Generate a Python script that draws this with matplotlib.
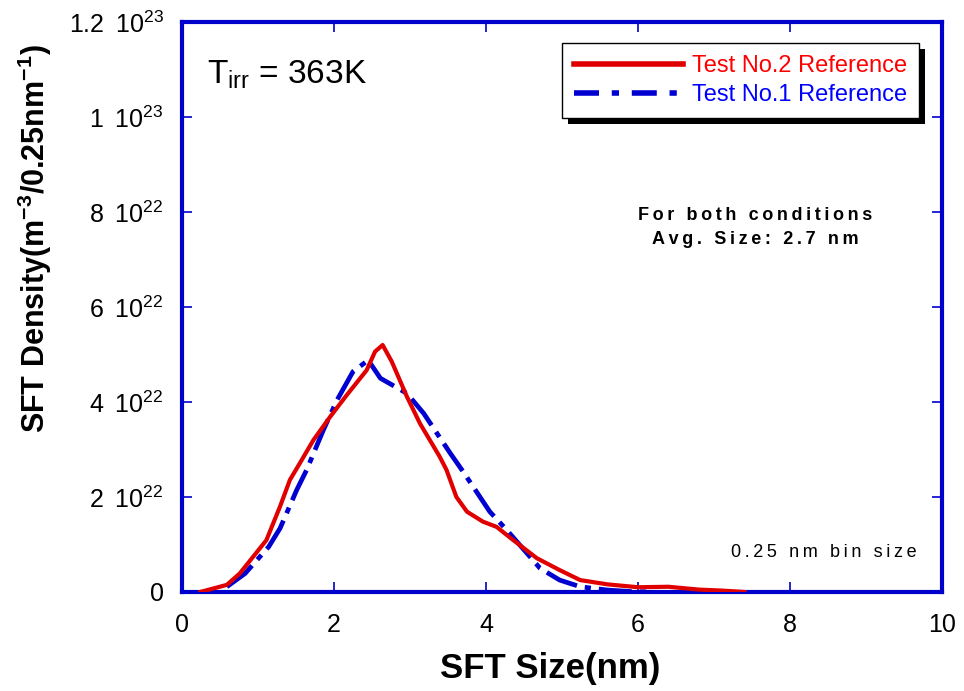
import numpy as np
import matplotlib.pyplot as plt
from matplotlib.ticker import FuncFormatter, MultipleLocator
from matplotlib.patches import Rectangle
from matplotlib.transforms import IdentityTransform

plt.rcParams['font.family'] = ['Liberation Sans', 'DejaVu Sans']
plt.rcParams['mathtext.fontset'] = 'custom'
plt.rcParams['mathtext.rm'] = 'Liberation Sans'
plt.rcParams['mathtext.it'] = 'Liberation Sans:italic'
plt.rcParams['mathtext.bf'] = 'Liberation Sans:bold'

# --- Test No.2 Reference (red, solid) ---
x_ref2 = [0.24, 0.59, 0.76, 1.11, 1.29, 1.42, 1.55, 1.73, 1.95, 2.17, 2.43, 2.54,
          2.64, 2.76, 2.96, 3.13, 3.39, 3.48, 3.61, 3.75, 3.96, 4.14, 4.36, 4.67,
          4.97, 5.24, 5.6, 6.0, 6.4, 6.8, 7.1, 7.4]
y_ref2 = [0.0, 1.5e21, 3.9e21, 1.09e22, 1.8e22, 2.36e22, 2.71e22, 3.2e22, 3.69e22,
          4.15e22, 4.67e22, 5.06e22, 5.2e22, 4.85e22, 4.11e22, 3.55e22, 2.85e22,
          2.57e22, 2.0e22, 1.69e22, 1.48e22, 1.37e22, 1.09e22, 7.1e21, 4.6e21,
          2.5e21, 1.6e21, 1.0e21, 1.1e21, 5e20, 3e20, 0.0]

# --- Test No.1 Reference (blue, dash-dot) ---
x_ref1 = [0.59, 0.83, 1.14, 1.29, 1.51, 1.64, 1.86, 2.04, 2.25, 2.45, 2.61, 2.96,
          3.18, 3.53, 3.70, 4.05, 4.27, 4.71, 4.97, 5.24, 5.6, 5.9, 6.2]
y_ref1 = [1.1e21, 3.9e21, 9.5e21, 1.34e22, 2.15e22, 2.57e22, 3.41e22, 4.04e22,
          4.64e22, 4.88e22, 4.5e22, 4.18e22, 3.76e22, 2.92e22, 2.53e22, 1.69e22,
          1.31e22, 5e21, 2.5e21, 1.1e21, 4e20, 1e20, 0.0]

y_ticks = [0, 2e22, 4e22, 6e22, 8e22, 1e23, 1.2e23]

TS = '\u2009'  # thin space, used to spread the letters of the notes


def sci_fmt(v, pos):
    if v == 0:
        return "0"
    e = int(np.floor(np.log10(abs(v)) + 1e-9))
    m = v / 10**e
    ms = f"{m:.1f}" if abs(m - round(m)) > 1e-6 else f"{int(round(m))}"
    return ms + " " + TS + r"10$^{" + str(e) + "}$"


def spread(s):
    return TS.join(s)


fig = plt.figure(figsize=(9.64, 6.91), dpi=100)
ax = fig.add_axes([0.1888, 0.1433, 0.7884, 0.8249])

ax.plot(x_ref2, y_ref2, color='#e00000', lw=3.0, solid_joinstyle='round',
        label='Test No.2 Reference', zorder=3)
ax.plot(x_ref1, y_ref1, color='#0000d0', lw=3.4, dashes=(7, 1.7, 1.3, 1.7),
        dash_capstyle='butt', label='Test No.1 Reference', zorder=2)

ax.set_xlim(0, 10)
ax.set_ylim(0, 1.2e23)
ax.xaxis.set_major_locator(MultipleLocator(2))
ax.set_yticks(y_ticks)
ax.yaxis.set_major_formatter(FuncFormatter(sci_fmt))

for s in ax.spines.values():
    s.set_color('#0000cc')
    s.set_linewidth(3.0)
ax.tick_params(direction='in', length=7, width=1.2, color='#0000cc',
               top=True, right=True, labelsize=18)
ax.tick_params(axis='x', pad=15)
ax.tick_params(axis='y', pad=13)

ax.set_xlabel('SFT Size(nm)', fontsize=25, fontweight='bold')
ax.xaxis.set_label_coords(0.484, -0.105)
ax.set_ylabel(r'SFT Density(m$^{\mathbf{-3}}$/0.25nm$^{\mathbf{-1}}$)',
              fontsize=22, fontweight='bold')
ax.yaxis.set_label_coords(-0.168, 0.62)

ax.text(0.033, 0.907, r'T$_{\mathrm{irr}}$ = 363K', transform=ax.transAxes,
        fontsize=24, va='center', ha='left')
ax.text(0.754, 0.64, spread('For both conditions') + '\n' + spread('Avg. Size: 2.7 nm'),
        transform=ax.transAxes, fontsize=13, fontweight='bold',
        ha='center', va='center', linespacing=1.55)
ax.text(0.967, 0.07, spread('0.25 nm bin size'), transform=ax.transAxes,
        fontsize=13, ha='right', va='center')

leg = ax.legend(loc='upper right', bbox_to_anchor=(0.9697, 0.963), fontsize=17,
                frameon=True, fancybox=False, shadow=False, framealpha=1,
                handlelength=4.6, handletextpad=0.4, borderpad=0.5,
                labelspacing=0.3, borderaxespad=0)
leg.get_frame().set_edgecolor('black')
leg.get_frame().set_linewidth(1.0)
for txt, c in zip(leg.get_texts(), ['#ff0000', '#0000ff']):
    txt.set_color(c)
for ln in leg.get_lines():
    ln.set_linewidth(4.0)
leg.get_lines()[1].set_dashes((4.5, 2.3, 1.3, 2.3))

# hard drop shadow behind the legend box
fig.canvas.draw()
bb = leg.get_window_extent()
ax.add_patch(Rectangle((bb.x0 + 6, bb.y0 - 6), bb.width, bb.height,
                       transform=IdentityTransform(), facecolor='black',
                       edgecolor='none', zorder=4.9, clip_on=False))

fig.savefig('out.png', dpi=100)
